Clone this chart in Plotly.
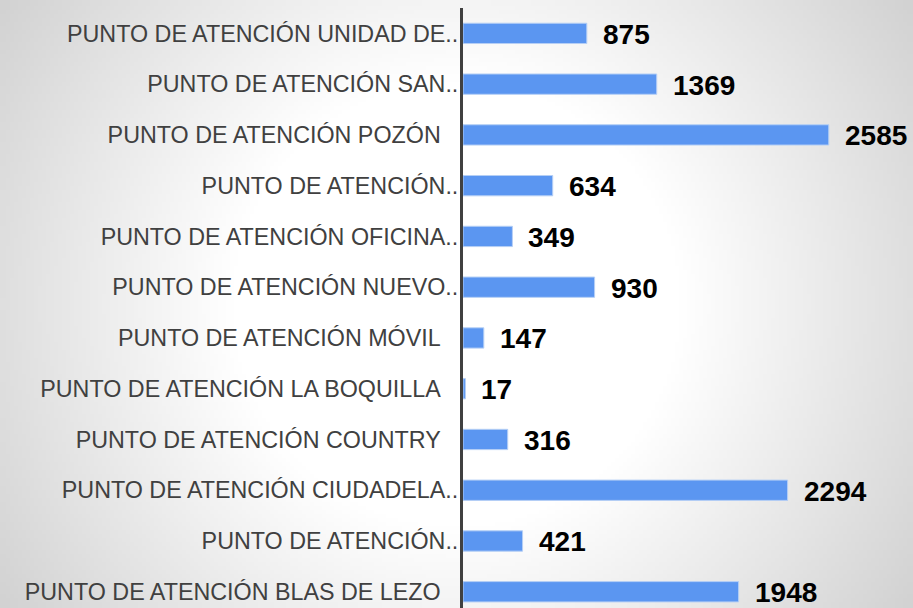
import base64, struct, zlib
import numpy as np
import plotly.graph_objects as go

# ---- data (top to bottom as shown) ----
categories = [
    "PUNTO DE ATENCIÓN UNIDAD DE..",
    "PUNTO DE ATENCIÓN SAN..",
    "PUNTO DE ATENCIÓN POZÓN",
    "PUNTO DE ATENCIÓN..",
    "PUNTO DE ATENCIÓN OFICINA..",
    "PUNTO DE ATENCIÓN NUEVO..",
    "PUNTO DE ATENCIÓN MÓVIL",
    "PUNTO DE ATENCIÓN LA BOQUILLA",
    "PUNTO DE ATENCIÓN COUNTRY",
    "PUNTO DE ATENCIÓN CIUDADELA..",
    "PUNTO DE ATENCIÓN..",
    "PUNTO DE ATENCIÓN BLAS DE LEZO",
]
values = [875, 1369, 2585, 634, 349, 930, 147, 17, 316, 2294, 421, 1948]

W, H = 913, 608
ML, MT = 463, 8
PW, PH = W - ML, H - MT

# ---- radial gradient background as PNG ----
def gradient_png(w, h):
    ys, xs = np.mgrid[0:h, 0:w]
    cx, cy = (w - 1) / 2, (h - 1) / 2
    d = np.sqrt((xs - cx) ** 2 + (ys - cy) ** 2) * (W / w)
    v = 255 - 0.14 * np.clip(d - 226, 0, None)
    v = np.clip(v, 0, 255).astype(np.uint8)
    raw = b"".join(b"\x00" + v[r].tobytes() for r in range(h))
    def chunk(t, data):
        c = struct.pack(">I", len(data)) + t + data
        return c + struct.pack(">I", zlib.crc32(t + data) & 0xFFFFFFFF)
    png = b"\x89PNG\r\n\x1a\n"
    png += chunk(b"IHDR", struct.pack(">IIBBBBB", w, h, 8, 0, 0, 0, 0))
    png += chunk(b"IDAT", zlib.compress(raw, 9))
    png += chunk(b"IEND", b"")
    return "data:image/png;base64," + base64.b64encode(png).decode()

bg = gradient_png(W // 4, H // 4)

def tick_label(c):
    return c if c.endswith("..") else c + "\u00a0\u00a0\u2009"

ypos = list(range(len(categories)))

fig = go.Figure(go.Bar(
    x=values, y=ypos, orientation="h", width=0.4,
    marker=dict(color="#5b96f1", line=dict(color="#b5cff5", width=1)),
    hoverinfo="skip",
))

for yi, v in zip(ypos, values):
    fig.add_annotation(x=v, y=yi, text=f"<b>{v}</b>", showarrow=False,
                       xanchor="left", yanchor="middle", xshift=14, yshift=-1,
                       font=dict(family="Liberation Sans, Arial", size=28, color="#000000"))

fig.add_layout_image(dict(
    source=bg, xref="paper", yref="paper",
    x=-ML / PW, y=1 + MT / PH, sizex=W / PW, sizey=H / PH,
    xanchor="left", yanchor="top", sizing="stretch", layer="below",
))

fig.update_layout(
    width=W, height=H,
    margin=dict(l=ML, r=0, t=MT, b=0, pad=0),
    paper_bgcolor="#e6e6e6", plot_bgcolor="rgba(0,0,0,0)",
    showlegend=False,
    xaxis=dict(range=[0, PW / 0.1415], visible=False, fixedrange=True),
    yaxis=dict(range=[11.32, -0.5], tickmode="array", tickvals=ypos,
               ticktext=[tick_label(c) for c in categories],
               showgrid=False, zeroline=False, ticks="", ticklabelstandoff=-3,
               showline=True, linecolor="#404040", linewidth=3,
               tickfont=dict(family="Liberation Sans, Arial", size=23.3, color="#404040"),
               automargin=False, fixedrange=True),
)

fig.write_html("out.html", config={"displayModeBar": False},
               post_script="document.body.style.margin='0';document.body.style.padding='0';"
                           "document.body.style.overflow='hidden';")
